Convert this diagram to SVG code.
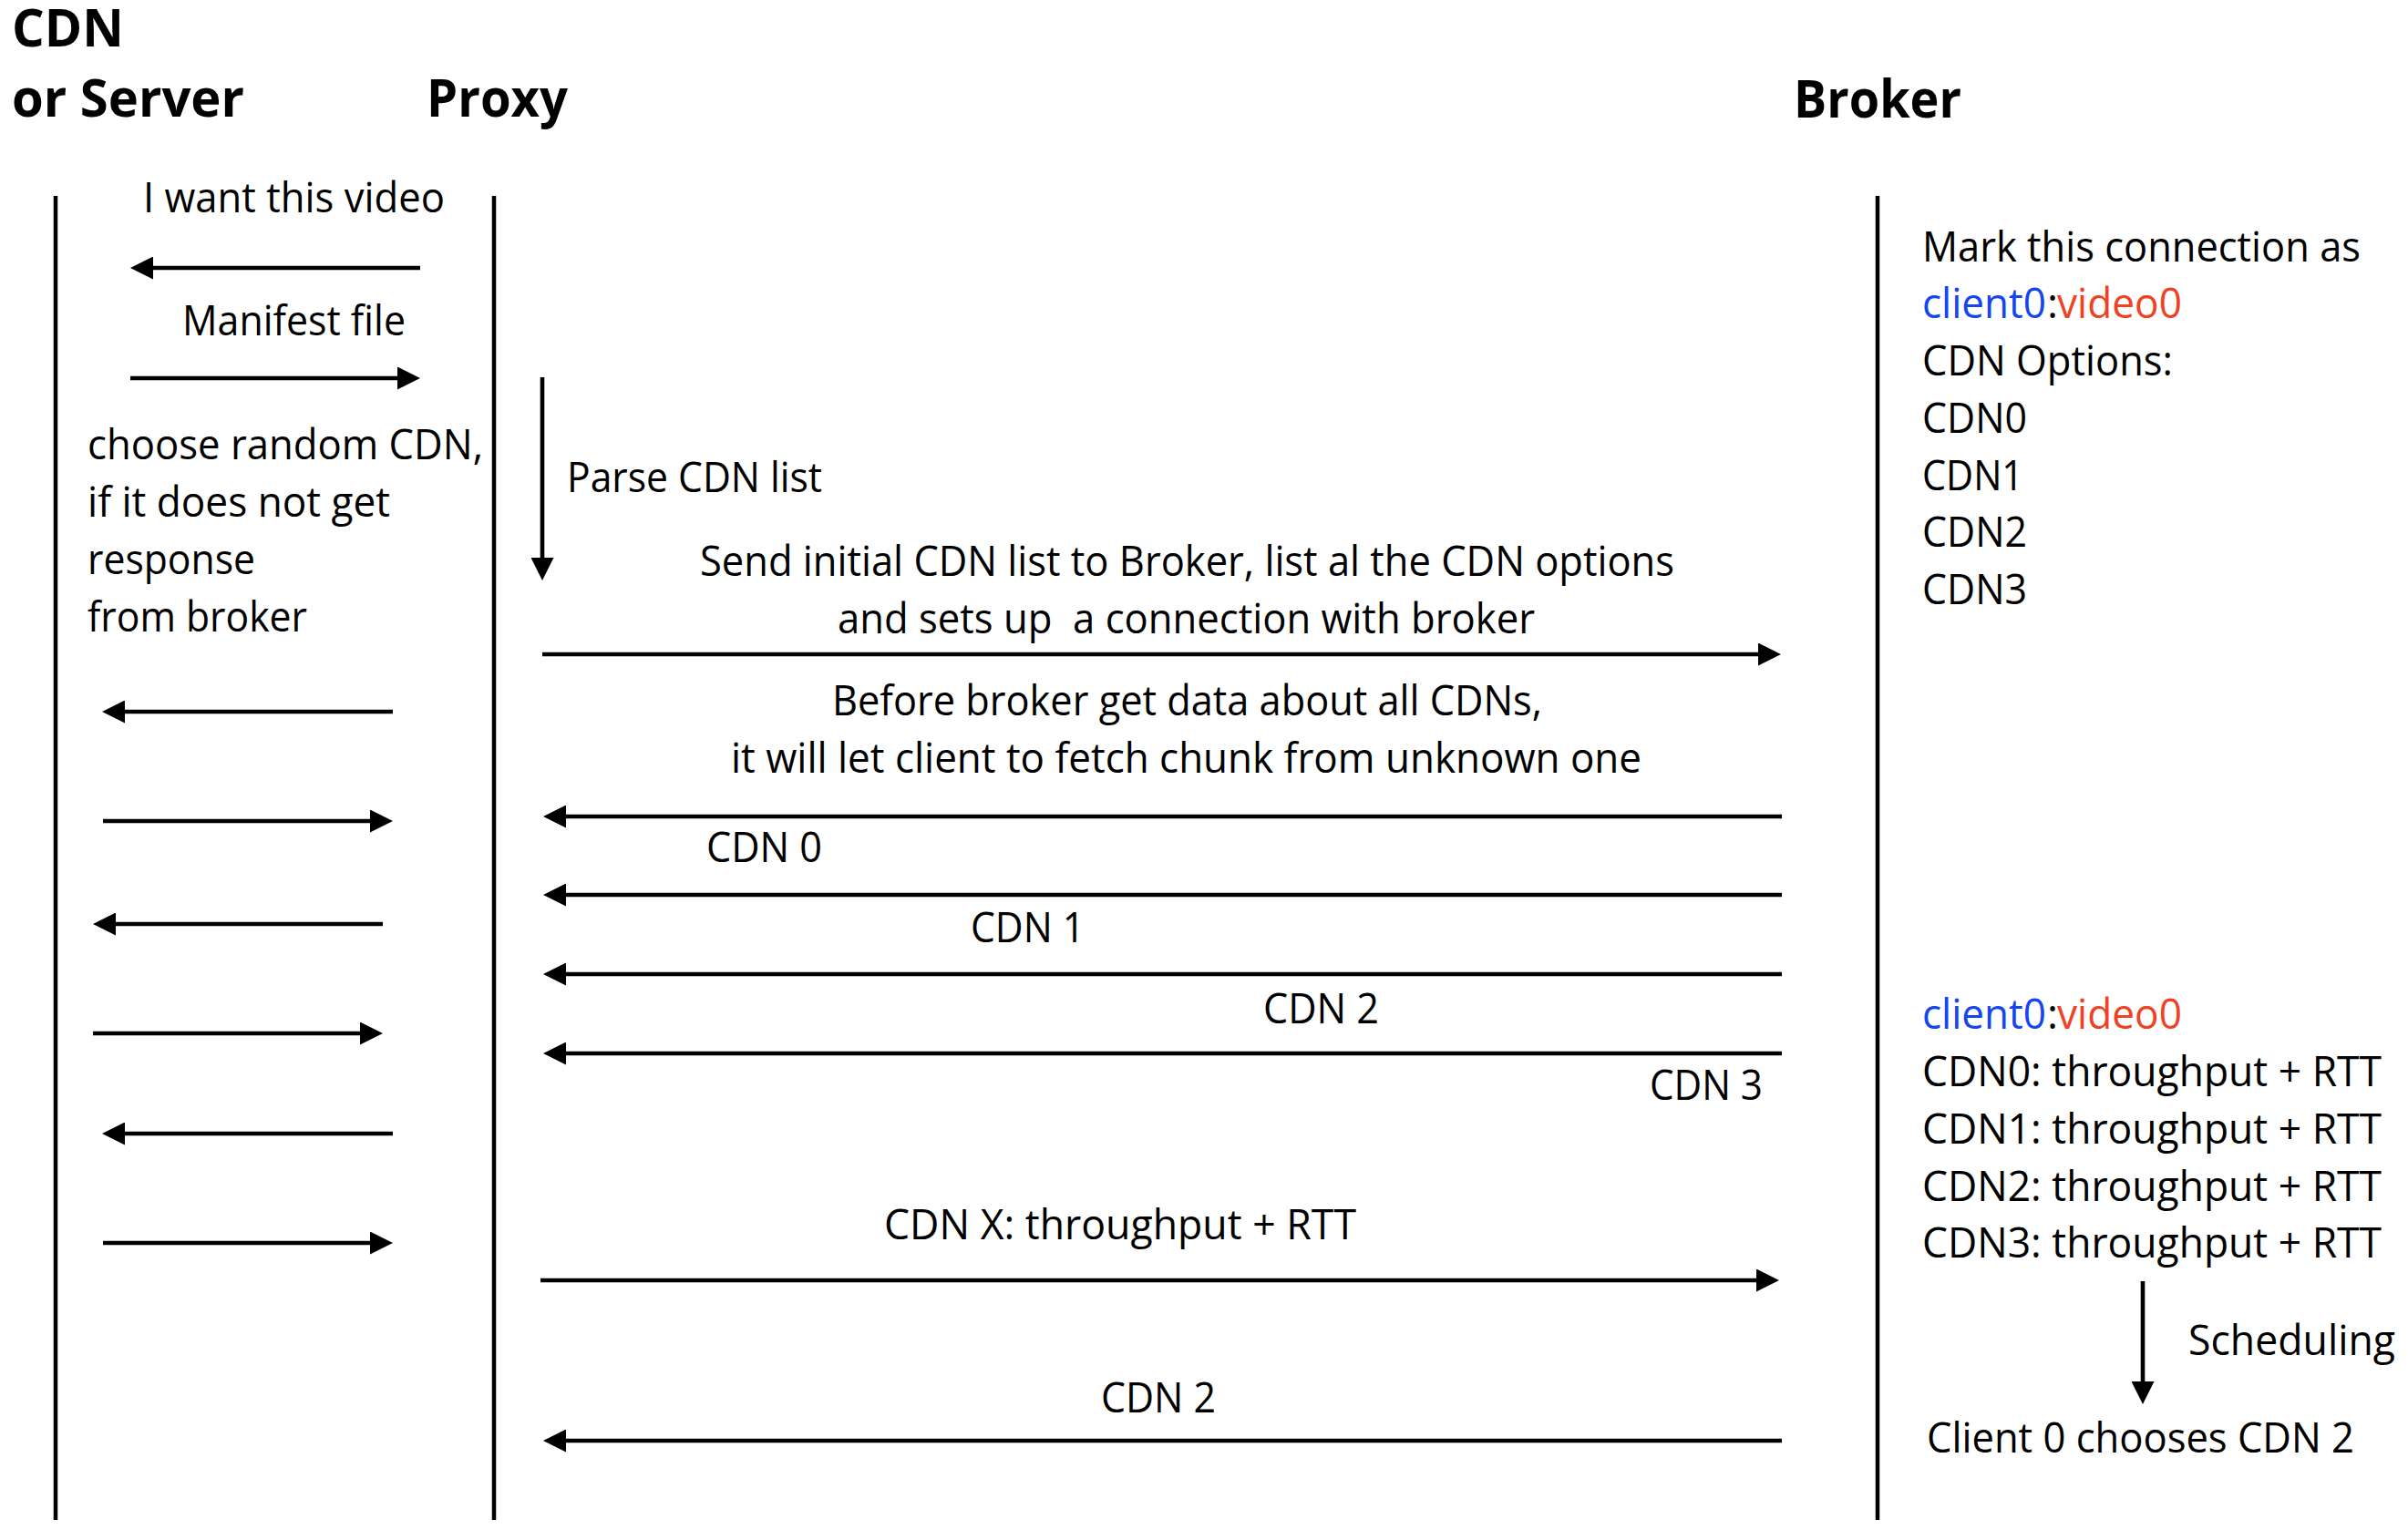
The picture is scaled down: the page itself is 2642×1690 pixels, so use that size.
<svg xmlns="http://www.w3.org/2000/svg" width="2642" height="1690" viewBox="0 0 2642 1690">
<style>
text{font-family:"Open Sans","Noto Sans","Liberation Sans",sans-serif;fill:#000;white-space:pre}
.h{font-weight:bold;font-size:58px}
.t{font-size:46px}
.life{stroke:#000;stroke-width:4.5}
.msg{stroke:#000;stroke-width:4.6;fill:none}
.blue{fill:#1345f0}
.red{fill:#ef4124}
</style>
<defs>
<marker id="ah" markerUnits="userSpaceOnUse" viewBox="0 0 25 25" markerWidth="25" markerHeight="25" refX="12" refY="12.5" orient="auto">
<path d="M0,0 L25,12.5 L0,25 z" fill="#000"/>
</marker>
</defs>
<rect width="2642" height="1690" fill="#fff"/>

<g id="cdn">
<text class="h" x="13" y="51" textLength="123" lengthAdjust="spacingAndGlyphs">CDN</text>
<text class="h" x="13" y="128" textLength="255" lengthAdjust="spacingAndGlyphs">or Server</text>
<line class="life" x1="61" y1="215" x2="61" y2="1668"/>
</g>
<g id="proxy">
<text class="h" x="468" y="128" textLength="155" lengthAdjust="spacingAndGlyphs">Proxy</text>
<line class="life" x1="542" y1="215" x2="542" y2="1668"/>
</g>
<g id="broker">
<text class="h" x="1968" y="129" textLength="184" lengthAdjust="spacingAndGlyphs">Broker</text>
<line class="life" x1="2060" y1="215" x2="2060" y2="1668"/>
</g>

<g id="notes-left">
<text class="t" x="157" y="233" textLength="331" lengthAdjust="spacingAndGlyphs">I want this video</text>
<text class="t" x="200" y="368" textLength="245" lengthAdjust="spacingAndGlyphs">Manifest file</text>
<text class="t" x="96" y="504" textLength="434" lengthAdjust="spacingAndGlyphs">choose random CDN,</text>
<text class="t" x="96" y="567" textLength="332" lengthAdjust="spacingAndGlyphs">if it does not get</text>
<text class="t" x="96" y="630" textLength="184" lengthAdjust="spacingAndGlyphs">response</text>
<text class="t" x="96" y="693" textLength="241" lengthAdjust="spacingAndGlyphs">from broker</text>
</g>

<g id="notes-middle">
<text class="t" x="622" y="540" textLength="280" lengthAdjust="spacingAndGlyphs">Parse CDN list</text>
<text class="t" x="768" y="632" textLength="1069" lengthAdjust="spacingAndGlyphs">Send initial CDN list to Broker, list al the CDN options</text>
<text class="t" x="919" y="695" textLength="765" lengthAdjust="spacingAndGlyphs">and sets up  a connection with broker</text>
<text class="t" x="913" y="785" textLength="779" lengthAdjust="spacingAndGlyphs">Before broker get data about all CDNs,</text>
<text class="t" x="802" y="848" textLength="999" lengthAdjust="spacingAndGlyphs">it will let client to fetch chunk from unknown one</text>
<text class="t" x="775" y="946" textLength="127" lengthAdjust="spacingAndGlyphs">CDN 0</text>
<text class="t" x="1065" y="1034" textLength="125" lengthAdjust="spacingAndGlyphs">CDN 1</text>
<text class="t" x="1386" y="1123" textLength="127" lengthAdjust="spacingAndGlyphs">CDN 2</text>
<text class="t" x="1810" y="1207" textLength="124" lengthAdjust="spacingAndGlyphs">CDN 3</text>
<text class="t" x="970" y="1360" textLength="518" lengthAdjust="spacingAndGlyphs">CDN X: throughput + RTT</text>
<text class="t" x="1208" y="1550" textLength="126" lengthAdjust="spacingAndGlyphs">CDN 2</text>
</g>

<g id="notes-broker">
<text class="t" x="2109" y="287" textLength="481" lengthAdjust="spacingAndGlyphs">Mark this connection as</text>
<text class="t blue" x="2109" y="349" textLength="136" lengthAdjust="spacingAndGlyphs">client0</text>
<text class="t" x="2246" y="349">:</text>
<text class="t red" x="2257" y="349" textLength="137" lengthAdjust="spacingAndGlyphs">video0</text>
<text class="t" x="2109" y="412" textLength="275" lengthAdjust="spacingAndGlyphs">CDN Options:</text>
<text class="t" x="2109" y="475" textLength="115" lengthAdjust="spacingAndGlyphs">CDN0</text>
<text class="t" x="2109" y="538" textLength="111" lengthAdjust="spacingAndGlyphs">CDN1</text>
<text class="t" x="2109" y="600" textLength="115" lengthAdjust="spacingAndGlyphs">CDN2</text>
<text class="t" x="2109" y="663" textLength="115" lengthAdjust="spacingAndGlyphs">CDN3</text>
<text class="t blue" x="2109" y="1129" textLength="136" lengthAdjust="spacingAndGlyphs">client0</text>
<text class="t" x="2246" y="1129">:</text>
<text class="t red" x="2257" y="1129" textLength="137" lengthAdjust="spacingAndGlyphs">video0</text>
<text class="t" x="2109" y="1192" textLength="504" lengthAdjust="spacingAndGlyphs">CDN0: throughput + RTT</text>
<text class="t" x="2109" y="1255" textLength="504" lengthAdjust="spacingAndGlyphs">CDN1: throughput + RTT</text>
<text class="t" x="2109" y="1318" textLength="504" lengthAdjust="spacingAndGlyphs">CDN2: throughput + RTT</text>
<text class="t" x="2109" y="1380" textLength="504" lengthAdjust="spacingAndGlyphs">CDN3: throughput + RTT</text>
<text class="t" x="2401" y="1487" textLength="227" lengthAdjust="spacingAndGlyphs">Scheduling</text>
<text class="t" x="2114" y="1594" textLength="469" lengthAdjust="spacingAndGlyphs">Client 0 chooses CDN 2</text>
</g>

<g id="connectors">
<line class="msg" x1="461" y1="294" x2="156" y2="294" marker-end="url(#ah)"/>
<line class="msg" x1="143" y1="415" x2="448" y2="415" marker-end="url(#ah)"/>
<line class="msg" x1="431" y1="781" x2="125" y2="781" marker-end="url(#ah)"/>
<line class="msg" x1="113" y1="901" x2="418" y2="901" marker-end="url(#ah)"/>
<line class="msg" x1="420" y1="1014" x2="115" y2="1014" marker-end="url(#ah)"/>
<line class="msg" x1="102" y1="1134" x2="407" y2="1134" marker-end="url(#ah)"/>
<line class="msg" x1="431" y1="1244" x2="125" y2="1244" marker-end="url(#ah)"/>
<line class="msg" x1="113" y1="1364" x2="418" y2="1364" marker-end="url(#ah)"/>
<line class="msg" x1="595" y1="414" x2="595" y2="624" marker-end="url(#ah)"/>
<line class="msg" x1="595" y1="718" x2="1941" y2="718" marker-end="url(#ah)"/>
<line class="msg" x1="1955" y1="896" x2="609" y2="896" marker-end="url(#ah)"/>
<line class="msg" x1="1955" y1="982" x2="609" y2="982" marker-end="url(#ah)"/>
<line class="msg" x1="1955" y1="1069" x2="609" y2="1069" marker-end="url(#ah)"/>
<line class="msg" x1="1955" y1="1156" x2="609" y2="1156" marker-end="url(#ah)"/>
<line class="msg" x1="593" y1="1405" x2="1939" y2="1405" marker-end="url(#ah)"/>
<line class="msg" x1="1955" y1="1581" x2="609" y2="1581" marker-end="url(#ah)"/>
<line class="msg" x1="2351" y1="1406" x2="2351" y2="1528" marker-end="url(#ah)"/>
</g>
</svg>
